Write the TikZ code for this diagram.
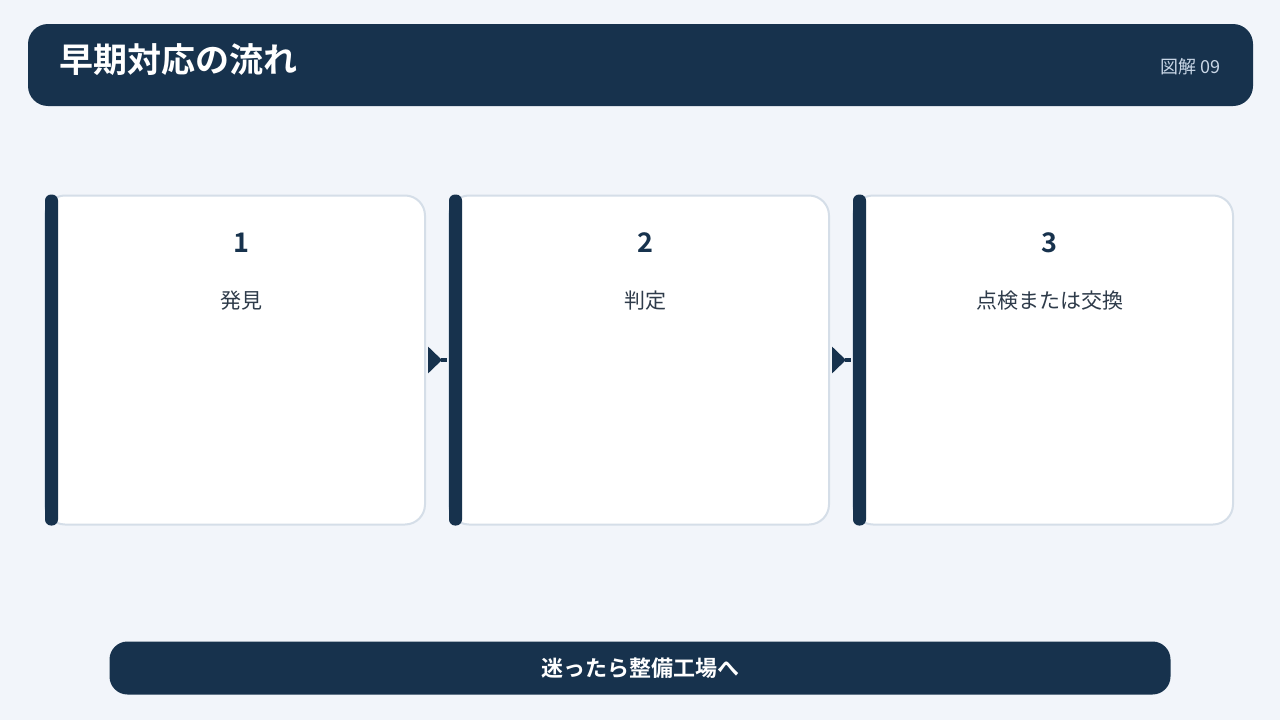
\documentclass[tikz,border=0pt]{standalone}
\usepackage{fontspec}
\setmainfont{Noto Sans CJK JP}[BoldFont={Noto Sans CJK JP Bold}]
\usetikzlibrary{arrows.meta}
\definecolor{navy}{HTML}{17324D}
\definecolor{paper}{HTML}{F2F5FA}
\definecolor{edge}{HTML}{D5DEE8}
\definecolor{ink}{HTML}{2E3B4A}
\definecolor{tagtext}{HTML}{C9D6E6}

\begin{document}
\begin{tikzpicture}[x=1pt,y=-1pt,
  banner/.style={rectangle,rounded corners=20pt,fill=navy,inner sep=0pt},
  cardbox/.style={rectangle,rounded corners=20pt,draw=edge,line width=2pt,fill=white,
    minimum width=380pt,minimum height=329pt,inner sep=0pt,outer sep=0pt},
  cardbar/.style={rectangle,rounded corners=6pt,fill=navy,minimum width=13pt,
    minimum height=331pt,inner sep=0pt,outer sep=0pt},
  stepnum/.style={text=navy,font=\fontsize{27}{30}\selectfont\bfseries},
  steptext/.style={text=ink,font=\fontsize{21}{24}\selectfont},
  flowline/.style={draw=navy,line width=4pt}]
\useasboundingbox[fill=paper] (0,0) rectangle (1280,720);
% header
\node[banner,minimum width=1225pt,minimum height=82pt] (head) at (640.5,65) {};
\node[anchor=west,text=white,font=\fontsize{34}{40}\selectfont\bfseries] (title) at (56,60) {早期対応の流れ};
\node[anchor=east,text=tagtext,font=\fontsize{18}{20}\selectfont] (tag) at (1224,67) {図解 09};
% the three steps
\foreach \i/\x/\txt in {1/235/発見,2/639/判定,3/1043/点検または交換}{
  \node[cardbox] (c\i) at (\x,360) {};
  \node[cardbar] (b\i) at (\x-183.5,360) {};
  \node[stepnum] (n\i) at (\x+6.5,243) {\i};
  \node[steptext] (t\i) at (\x+6.5,301) {\txt};
}
\foreach \a/\b in {1/2,2/3}{
  \draw[flowline,-{Triangle[length=14pt,width=26pt]},shorten <=3pt,shorten >=7pt] (c\a.east) -- (c\b.west);
  \draw[flowline] ([xshift=-8pt]c\b.west) -- ([xshift=-2pt]c\b.west);
}
% footer
\node[banner,rounded corners=18pt,minimum width=1061pt,minimum height=53pt] (foot) at (640,668) {};
\node[text=white,font=\fontsize{22}{24}\selectfont\bfseries] (note) at (foot) {迷ったら整備工場へ};
\end{tikzpicture}
\end{document}
